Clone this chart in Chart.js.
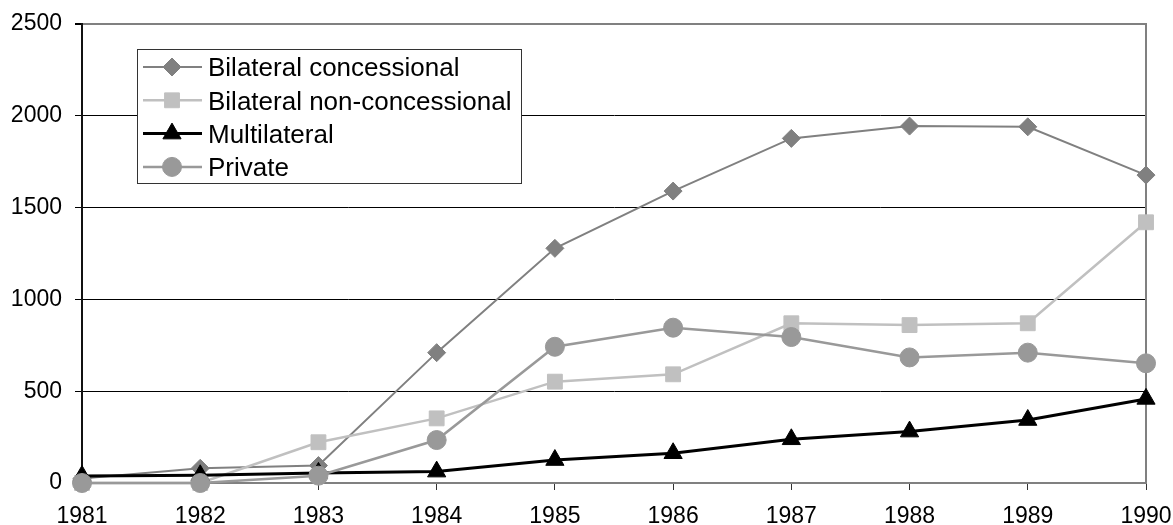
<!DOCTYPE html>
<html>
<head>
<meta charset="utf-8">
<script src="https://cdn.jsdelivr.net/npm/chart.js@4/dist/chart.umd.min.js"></script>
<style>
  html, body { margin: 0; padding: 0; background: #fff; }
  canvas { display: block; }
</style>
</head>
<body>
<canvas id="chart" width="1173" height="525"></canvas>
<script>
// Years on the horizontal axis
const years = ['1981', '1982', '1983', '1984', '1985', '1986', '1987', '1988', '1989', '1990'];

// Flows per year, by source
const bilateralConcessional    = [25, 80, 95, 710, 1278, 1590, 1877, 1944, 1940, 1677];
const bilateralNonConcessional = [0, 0, 222, 352, 552, 592, 870, 860, 870, 1420];
const multilateral             = [38, 42, 55, 62, 125, 162, 238, 280, 343, 458];
const privateFlows             = [0, 0, 40, 234, 742, 846, 795, 684, 710, 652];

// Value axis ticks
const yTicks = [0, 500, 1000, 1500, 2000, 2500];

const FONT = '"Liberation Sans", Arial, Helvetica, sans-serif';

function series(label, data, color, style, radius, width, order) {
  return {
    label, data, order,
    borderColor: color,
    backgroundColor: color,
    borderWidth: width,
    pointStyle: style,
    pointRadius: radius,
    pointHoverRadius: radius,
    pointBackgroundColor: color,
    pointBorderColor: color,
    pointBorderWidth: 1,
    tension: 0,
    clip: false
  };
}

// Legend box drawn inside the plot area
const insideLegend = {
  id: 'insideLegend',
  afterDraw(chart) {
    const ctx = chart.ctx;
    const bx = 137.5, by = 49.5, bw = 384, bh = 134;
    ctx.save();
    ctx.fillStyle = '#fff';
    ctx.fillRect(bx, by, bw, bh);
    ctx.strokeStyle = '#333';
    ctx.lineWidth = 1;
    ctx.strokeRect(bx, by, bw, bh);
    chart.data.datasets.forEach((ds, i) => {
      const y = 67 + i * 33.3;
      ctx.strokeStyle = ds.borderColor;
      ctx.lineWidth = ds.borderWidth;
      ctx.beginPath();
      ctx.moveTo(143, y);
      ctx.lineTo(202, y);
      ctx.stroke();
      ctx.fillStyle = ds.pointBackgroundColor;
      ctx.strokeStyle = ds.pointBorderColor;
      ctx.lineWidth = 1;
      Chart.helpers.drawPoint(ctx, {
        pointStyle: ds.pointStyle,
        radius: ds.pointRadius,
        borderWidth: 1,
        rotation: 0
      }, 172, y);
      ctx.fillStyle = '#000';
      ctx.font = '26px ' + FONT;
      ctx.textAlign = 'left';
      ctx.textBaseline = 'alphabetic';
      ctx.fillText(ds.label, 208, y + 9.3);
    });
    ctx.restore();
  }
};

// Right-hand edge of the plot frame
const plotFrame = {
  id: 'plotFrame',
  beforeDatasetsDraw(chart) {
    const { ctx, chartArea } = chart;
    ctx.save();
    ctx.strokeStyle = '#808080';
    ctx.lineWidth = 2;
    ctx.beginPath();
    ctx.moveTo(chartArea.right, chartArea.top - 1);
    ctx.lineTo(chartArea.right, chartArea.bottom);
    ctx.stroke();
    ctx.restore();
  }
};

new Chart(document.getElementById('chart'), {
  type: 'line',
  data: {
    labels: years,
    datasets: [
      series('Bilateral concessional', bilateralConcessional, '#808080', 'rectRot', 9, 2, 3),
      series('Bilateral non-concessional', bilateralNonConcessional, '#c0c0c0', 'rect', 10.5, 2.5, 2),
      series('Multilateral', multilateral, '#000000', 'triangle', 10.5, 3, 1),
      series('Private', privateFlows, '#999999', 'circle', 9.5, 2.5, 0)
    ]
  },
  options: {
    responsive: false,
    animation: false,
    devicePixelRatio: 1,
    layout: { padding: { top: 24, right: 27, left: 0, bottom: 0 } },
    plugins: {
      legend: { display: false },
      tooltip: { enabled: false }
    },
    scales: {
      x: {
        type: 'category',
        offset: false,
        afterFit(scale) {
          scale.height = 42;
          scale.paddingLeft = 0;
          scale.paddingRight = 0;
        },
        border: { display: true, color: '#808080', width: 2 },
        grid: {
          display: true,
          drawOnChartArea: false,
          drawTicks: true,
          tickLength: 7,
          tickColor: '#333',
          offset: false
        },
        ticks: {
          color: '#000',
          font: { family: FONT, size: 23 },
          padding: 13,
          maxRotation: 0,
          autoSkip: false
        }
      },
      y: {
        min: 0,
        max: 2500,
        afterFit(scale) {
          scale.width = 82;
          scale.paddingTop = 0;
          scale.paddingBottom = 0;
        },
        afterBuildTicks(scale) { scale.ticks = yTicks.map(v => ({ value: v })); },
        border: { display: true, color: '#111', width: 2 },
        grid: {
          color: c => (c.tick && (c.tick.value === 2500 || c.tick.value === 0)) ? '#808080' : '#000',
          lineWidth: c => (c.tick && c.tick.value === 2500) ? 2 : 1,
          tickLength: 7,
          tickColor: '#000'
        },
        ticks: {
          color: '#000',
          font: { family: FONT, size: 23 },
          padding: 13,
          callback: v => String(v)
        }
      }
    }
  },
  plugins: [plotFrame, insideLegend]
});
</script>
</body>
</html>
